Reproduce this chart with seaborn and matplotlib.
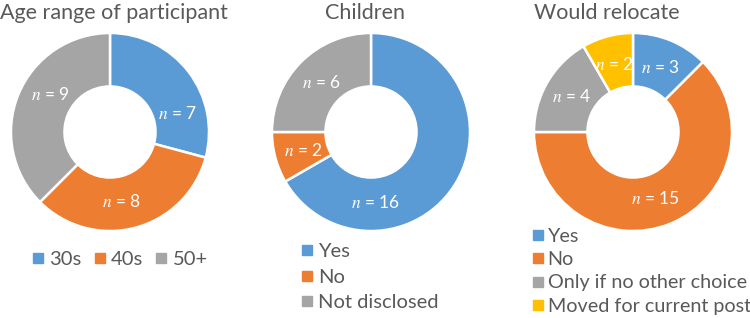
import numpy as np
import matplotlib
matplotlib.use("Agg")
import matplotlib.pyplot as plt
from matplotlib.lines import Line2D
import seaborn as sns

# ---- data ----
age_labels = ["30s", "40s", "50+"]
age_values = [7, 8, 9]
child_labels = ["Yes", "No", "Not disclosed"]
child_values = [16, 2, 6]
reloc_labels = ["Yes", "No", "Only if no other choice", "Moved for current post"]
reloc_values = [3, 15, 4, 2]
titles = ["Age range of participant", "Children", "Would relocate"]

sns.set_theme(style="white")
plt.rcParams["font.family"] = ["Lato", "DejaVu Sans"]
plt.rcParams["mathtext.fontset"] = "stix"

palette = sns.color_palette(["#5B9BD5", "#ED7D31", "#A5A5A5", "#FFC000"])
text_color = "#595959"

W, H = 750, 318
fig = plt.figure(figsize=(W / 100, H / 100), dpi=100)

def fx(px):
    return px / W

def fy(py):
    return 1 - py / H

R = 100
centers = [(110, 132), (371, 132), (633, 132)]
datasets = [age_values, child_values, reloc_values]
labelsets = [age_labels, child_labels, reloc_labels]
# angle tweaks (degrees) applied to label placement at wedge mid-angles
label_shift = [[-22, -6, -10], [-56, 0, 0], [0, -4, 0, 0]]
title_x = [114, 365, 607]

axes = []
for i, (cx, cy) in enumerate(centers):
    ax = fig.add_axes([fx(cx - R), fy(cy + R), 2 * R / W, 2 * R / H])
    vals = datasets[i]
    cols = palette[:len(vals)]
    wedges, _ = ax.pie(vals, colors=cols, startangle=90, counterclock=False,
                       radius=1.0,
                       wedgeprops=dict(width=0.54, edgecolor="white", linewidth=1.8))
    ax.set_xlim(-1.01, 1.01)
    ax.set_ylim(-1.01, 1.01)
    ax.set_aspect("equal")
    ax.axis("off")
    total = sum(vals)
    start = 90.0
    for j, v in enumerate(vals):
        span = 360.0 * v / total
        mid = start - span / 2 + label_shift[i][j]
        start -= span
        r = 0.71
        x, y = r * np.cos(np.radians(mid)), r * np.sin(np.radians(mid))
        ax.text(x, y, r"$n$ = " + str(v), ha="center", va="center",
                color="white", fontsize=12.5)
    fig.text(fx(title_x[i]), fy(13), titles[i], ha="center", va="center",
             fontsize=15.5, color=text_color)
    axes.append(ax)

def handles(n):
    return [Line2D([], [], marker="s", linestyle="", color=palette[k],
                   markersize=7.5) for k in range(n)]

# legend 1: horizontal
leg1 = fig.legend(handles(3), age_labels, loc="center", ncol=3,
                  bbox_to_anchor=(fx(119), fy(259)), frameon=False,
                  fontsize=14.5, handletextpad=0.15, columnspacing=0.5,
                  handlelength=0.8, labelcolor=text_color)
leg2 = fig.legend(handles(3), child_labels, loc="upper left",
                  bbox_to_anchor=(fx(289), fy(233)), frameon=False,
                  fontsize=14.5, handletextpad=0.15, labelspacing=0.42,
                  handlelength=0.8, labelcolor=text_color, borderpad=0)
leg3 = fig.legend(handles(4), reloc_labels, loc="upper left",
                  bbox_to_anchor=(fx(520), fy(218)), frameon=False,
                  fontsize=14.2, handletextpad=0.1, labelspacing=0.32,
                  handlelength=0.8, labelcolor=text_color, borderpad=0)

fig.savefig("out.png", dpi=100, facecolor="white")
